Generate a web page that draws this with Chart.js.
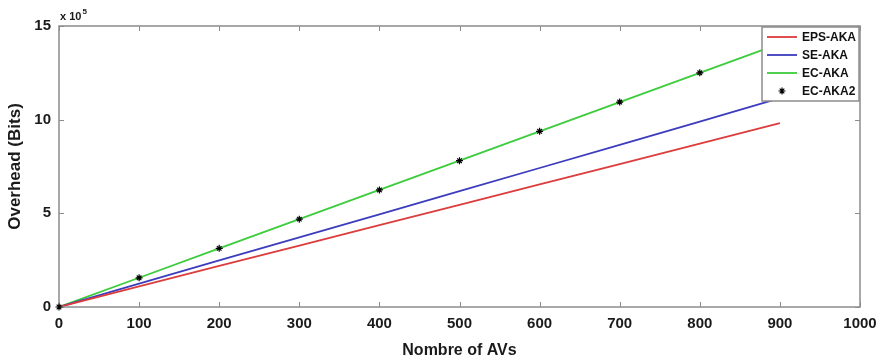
<!DOCTYPE html>
<html>
<head>
<meta charset="utf-8">
<script src="https://cdn.jsdelivr.net/npm/chart.js@4/dist/chart.umd.min.js"></script>
<style>
  html, body { margin: 0; padding: 0; background: #ffffff; }
  #wrap { width: 882px; height: 363px; }
</style>
</head>
<body>
<div id="wrap"><canvas id="c" width="882" height="363"></canvas></div>
<script>
// Number of AVs (x values)
const avCounts = [0, 100, 200, 300, 400, 500, 600, 700, 800, 900];
// Overhead in units of 10^5 bits
const epsAka = [0, 1.10, 2.19, 3.28, 4.37, 5.45, 6.55, 7.63, 8.72, 9.82];
const seAka  = [0, 1.25, 2.49, 3.72, 4.95, 6.18, 7.42, 8.66, 9.90, 11.15];
const ecAka  = [0, 1.56, 3.13, 4.69, 6.25, 7.81, 9.38, 10.94, 12.50, 14.06];
const ecAka2 = [0, 1.56, 3.13, 4.69, 6.25, 7.81, 9.38, 10.94, 12.50, 14.06];
const xTicks = [0, 100, 200, 300, 400, 500, 600, 700, 800, 900, 1000];
const yTicks = [0, 5, 10, 15];
const seriesNames = ['EPS-AKA', 'SE-AKA', 'EC-AKA', 'EC-AKA2'];
const xTitle = 'Nombre of AVs';
const yTitle = 'Overhead (Bits)';

const RED = '#dc3c3c', BLUE = '#3c3cbe', GREEN = '#3ccc3c';
const AXIS = '#8c8c8c';
const FONT = '"Liberation Sans", Arial, sans-serif';

const pts = arr => arr.map((v, i) => ({ x: avCounts[i], y: v }));

function drawStar(ctx, cx, cy) {
  ctx.beginPath();
  const r = 3.5, d = 2.3;
  ctx.moveTo(cx - r, cy); ctx.lineTo(cx + r, cy);
  ctx.moveTo(cx, cy - r); ctx.lineTo(cx, cy + r);
  ctx.moveTo(cx - d, cy - d); ctx.lineTo(cx + d, cy + d);
  ctx.moveTo(cx - d, cy + d); ctx.lineTo(cx + d, cy - d);
  ctx.stroke();
}

const frameAndTicks = {
  id: 'frameAndTicks',
  afterDatasetsDraw(chart) {
    const { ctx, chartArea: a, scales } = chart;
    const xs = scales.x, ys = scales.y;
    ctx.save();
    ctx.strokeStyle = AXIS;
    ctx.lineWidth = 1.5;
    ctx.strokeRect(a.left, a.top, a.right - a.left, a.bottom - a.top);
    ctx.lineWidth = 1;
    const L = 5;
    ctx.beginPath();
    xTicks.forEach(t => {
      const px = Math.round(xs.getPixelForValue(t)) + 0.5;
      ctx.moveTo(px, a.bottom); ctx.lineTo(px, a.bottom - L);
      ctx.moveTo(px, a.top); ctx.lineTo(px, a.top + L);
    });
    yTicks.forEach(t => {
      const py = Math.round(ys.getPixelForValue(t)) + 0.5;
      ctx.moveTo(a.left, py); ctx.lineTo(a.left + L, py);
      ctx.moveTo(a.right, py); ctx.lineTo(a.right - L, py);
    });
    ctx.stroke();

    // star markers (EC-AKA2)
    ctx.strokeStyle = '#000';
    ctx.lineWidth = 1.2;
    chart.getDatasetMeta(3).data.forEach(p => drawStar(ctx, p.x, p.y));

    // exponent label
    ctx.fillStyle = '#1a1a1a';
    ctx.font = 'bold 11px ' + FONT;
    ctx.textBaseline = 'alphabetic';
    ctx.textAlign = 'left';
    ctx.fillText('x 10', a.left + 1, a.top - 6);
    const w = ctx.measureText('x 10').width;
    ctx.font = 'bold 8px ' + FONT;
    ctx.fillText('5', a.left + 2 + w, a.top - 12);

    // legend
    const bx = a.left + 703, by = a.top + 1, bw = 97, bh = 74;
    ctx.fillStyle = '#ffffff';
    ctx.fillRect(bx, by, bw, bh);
    ctx.strokeStyle = AXIS;
    ctx.lineWidth = 1.5;
    ctx.strokeRect(bx, by, bw, bh);
    const colors = [RED, BLUE, GREEN, null];
    ctx.font = 'bold 12px ' + FONT;
    ctx.textBaseline = 'middle';
    seriesNames.forEach((name, i) => {
      const ry = by + 10 + i * 18;
      if (colors[i]) {
        ctx.strokeStyle = colors[i];
        ctx.lineWidth = 1.8;
        ctx.beginPath();
        ctx.moveTo(bx + 5, ry); ctx.lineTo(bx + 35, ry);
        ctx.stroke();
      } else {
        ctx.strokeStyle = '#000';
        ctx.lineWidth = 1.2;
        drawStar(ctx, bx + 20, ry);
      }
      ctx.fillStyle = '#111';
      ctx.fillText(name, bx + 40, ry + 1);
    });
    ctx.restore();
  }
};

new Chart(document.getElementById('c'), {
  type: 'line',
  data: {
    datasets: [
      { label: seriesNames[0], data: pts(epsAka), borderColor: RED, borderWidth: 1.8, pointRadius: 0, fill: false, tension: 0 },
      { label: seriesNames[1], data: pts(seAka), borderColor: BLUE, borderWidth: 1.8, pointRadius: 0, fill: false, tension: 0 },
      { label: seriesNames[2], data: pts(ecAka), borderColor: GREEN, borderWidth: 1.8, pointRadius: 0, fill: false, tension: 0 },
      { label: seriesNames[3], data: pts(ecAka2), showLine: false, pointRadius: 0, borderColor: '#000' }
    ]
  },
  options: {
    responsive: false,
    animation: false,
    layout: { padding: { top: 26, right: 22, left: 0, bottom: 0 } },
    plugins: { legend: { display: false }, tooltip: { enabled: false } },
    scales: {
      x: {
        type: 'linear', min: 0, max: 1000,
        afterFit: s => { s.height = 56; s.paddingRight = 0; s.paddingLeft = 0; },
        afterBuildTicks: s => { s.ticks = xTicks.map(v => ({ value: v })); },
        grid: { display: false, drawTicks: false },
        border: { display: false },
        ticks: { padding: 8, color: '#1a1a1a', font: { family: FONT, size: 15, weight: 'bold' }, maxRotation: 0, callback: v => String(v) },
        title: { display: true, text: xTitle, color: '#1a1a1a', font: { family: FONT, size: 16, weight: 'bold' }, padding: { top: 0, bottom: 2.4 } }
      },
      y: {
        type: 'linear', min: 0, max: 15,
        afterFit: s => { s.width = 59; s.paddingTop = 0; s.paddingBottom = 0; },
        afterBuildTicks: s => { s.ticks = yTicks.map(v => ({ value: v })); },
        grid: { display: false, drawTicks: false },
        border: { display: false },
        ticks: { padding: 8, color: '#1a1a1a', font: { family: FONT, size: 15, weight: 'bold' }, callback: v => String(v) },
        title: { display: true, text: yTitle, color: '#1a1a1a', font: { family: FONT, size: 17, weight: 'bold' }, padding: { top: 5, bottom: 0 } }
      }
    }
  },
  plugins: [frameAndTicks]
});
</script>
</body>
</html>
